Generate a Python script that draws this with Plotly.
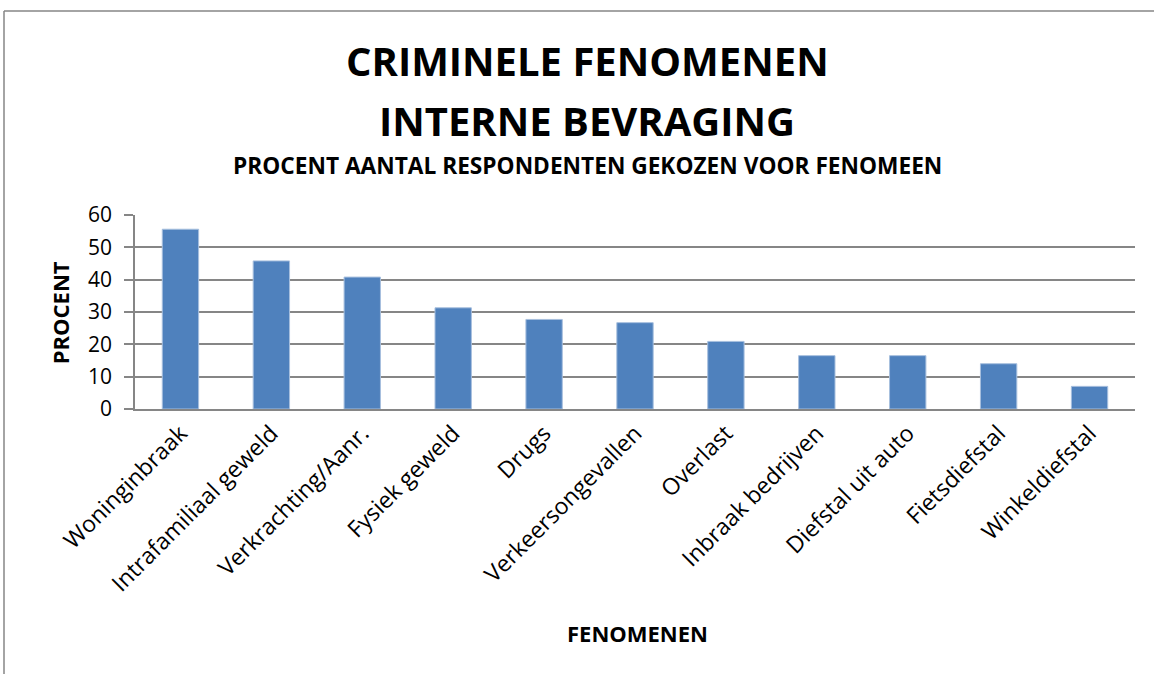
import plotly.graph_objects as go

categories = ["Woninginbraak", "Intrafamiliaal geweld", "Verkrachting/Aanr.", "Fysiek geweld",
              "Drugs", "Verkeersongevallen", "Overlast", "Inbraak bedrijven",
              "Diefstal uit auto", "Fietsdiefstal", "Winkeldiefstal"]
values = [55.6, 45.8, 40.8, 31.3, 27.7, 26.7, 20.9, 16.5, 16.5, 14.0, 7.0]
y_ticks = [0, 10, 20, 30, 40, 50, 60]

FONT = "Open Sans"
W, H = 1154, 674
L, R = 135, 1135
T, B = 214.5, 409

def px(x):
    return (x - L) / (R - L)

def py(y):
    return (B - y) / (B - T)

fig = go.Figure(go.Bar(
    x=categories, y=values,
    marker=dict(color="#4F81BD", line=dict(color="#A7BFDE", width=1)),
))

ann = [
    dict(text="<b>CRIMINELE FENOMENEN</b>", x=px(587), y=py(60), font=dict(size=40)),
    dict(text="<b>INTERNE BEVRAGING</b>", x=px(587), y=py(120), font=dict(size=40)),
    dict(text="<b>PROCENT AANTAL RESPONDENTEN GEKOZEN VOOR FENOMEEN</b>", x=px(587), y=py(165), font=dict(size=22.7)),
    dict(text="<b>FENOMENEN</b>", x=px(637), y=py(634), font=dict(size=22)),
    dict(text="<b>PROCENT</b>", x=px(60), y=py(313), font=dict(size=22), textangle=-90),
]
annotations = []
for a in ann:
    d = dict(xref="paper", yref="paper", showarrow=False, xanchor="center", yanchor="middle")
    d.update(a)
    d["font"] = dict(family=FONT, color="black", **a["font"])
    annotations.append(d)

fig.update_layout(
    width=W, height=H,
    margin=dict(l=L, r=W - R, t=T, b=H - B, pad=0),
    paper_bgcolor="white", plot_bgcolor="white",
    bargap=0.6,
    showlegend=False,
    font=dict(family=FONT, color="black"),
    annotations=annotations,
    shapes=[
        dict(type="line", xref="paper", yref="paper", x0=px(4), x1=px(4), y0=py(10), y1=py(680),
             line=dict(color="#868686", width=1.5)),
        dict(type="line", xref="paper", yref="paper", x0=px(4), x1=px(1160), y0=py(10), y1=py(10),
             line=dict(color="#868686", width=1.5)),
    ],
    xaxis=dict(
        tickangle=-45, tickfont=dict(size=23, family=FONT, color="black"),
        showline=True, linecolor="#868686", linewidth=1.5, showgrid=False,
        ticks="", ticklen=0,
    ),
    yaxis=dict(
        range=[0, 60], tickvals=y_ticks, tickfont=dict(size=21, family=FONT, color="black"),
        showgrid=True, gridcolor="#868686", gridwidth=1.5,
        showline=True, linecolor="#868686", linewidth=1.5,
        ticks="outside", ticklen=9, tickcolor="#868686", tickwidth=1.5,
        ticklabelstandoff=8,
        zeroline=False,
    ),
)

fig.write_html("out.html", config={"displayModeBar": False},
               post_script="document.body.style.margin='0';document.body.style.overflow='hidden';")
